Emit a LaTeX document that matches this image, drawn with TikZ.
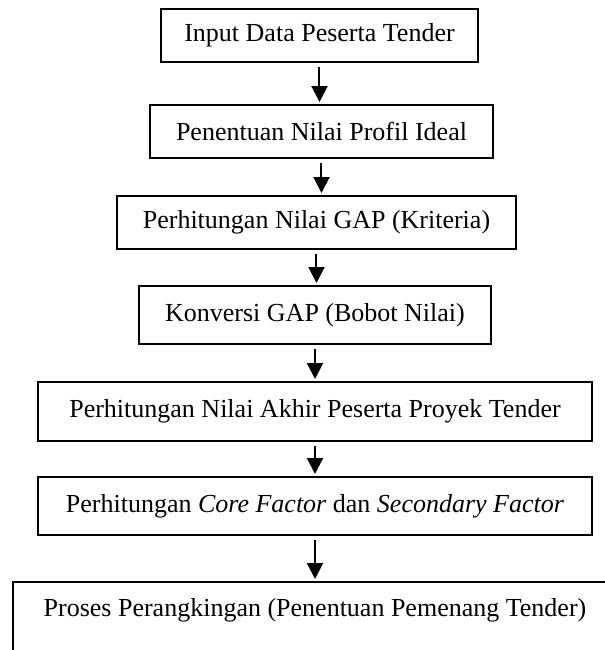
\documentclass[tikz,border=0pt]{standalone}
\usepackage{fontspec}
\setmainfont{Liberation Serif}
\usetikzlibrary{positioning, arrows.meta}
\tikzstyle{arrow} = [line width=1pt,-{Triangle[width=8pt,length=8pt]},shorten <=2pt,shorten >=1pt]
\tikzstyle{process} = [rectangle, minimum height=26.5pt, inner xsep=2pt, text centered, draw=black, line width=1.2pt, font=\fontsize{13}{15.6}\selectfont]

\begin{document}
\begin{tikzpicture}[node distance=17.8pt]
                \useasboundingbox (0,0) rectangle (302.5pt,-325pt);
                \clip (0,0) rectangle (302.5pt,-325pt);
                \node (input) [process, minimum width=158.5pt, anchor=north] at (159.75pt,-4pt) {Input Data Peserta Tender};
                \node (profil) [process, minimum width=171.5pt, below=20.3pt of input, xshift=1pt] {Penentuan Nilai Profil Ideal};
                \node (gap) [process, minimum width=199.5pt, below=of profil, xshift=-2.5pt] {Perhitungan Nilai GAP (Kriteria)};
                \node (konversi) [process, minimum width=176pt, minimum height=29pt, below=17.3pt of gap, xshift=-0.75pt] {Konversi GAP (Bobot Nilai)};
                \node (akhir) [process, minimum width=277pt, minimum height=29.5pt, below=of konversi] {Perhitungan Nilai Akhir Peserta Proyek Tender};
                \node (factor) [process, minimum width=277pt, minimum height=29pt, below=16.8pt of akhir] {Perhitungan \textit{Core Factor} dan \textit{Secondary Factor}};
                \node (ranking) [process, minimum width=302pt, text height=9pt, text depth=16.4pt, inner ysep=8.3pt, below=22.3pt of factor] {Proses Perangkingan (Penentuan Pemenang Tender)};

                \draw [arrow] (input.south) -- (input.south |- profil.north);
                \draw [arrow] (profil.south) -- (profil.south |- gap.north);
                \draw [arrow] (gap.south) -- (gap.south |- konversi.north);
                \draw [arrow] (konversi) -- (akhir);
                \draw [arrow] (akhir) -- (factor);
                \draw [arrow] (factor) -- (ranking);
\end{tikzpicture}
\end{document}
